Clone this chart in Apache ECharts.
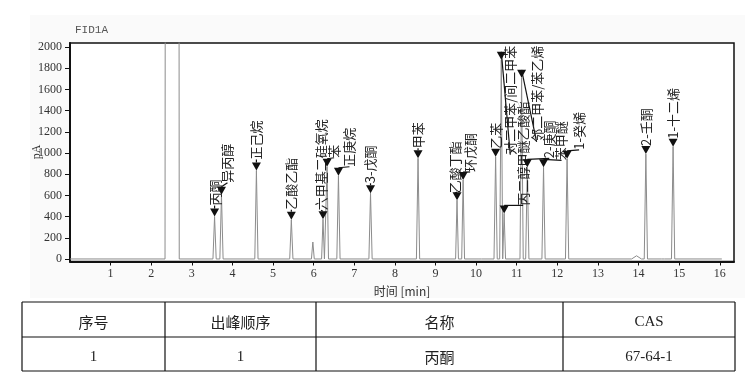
<!DOCTYPE html>
<html><head><meta charset="utf-8">
<script src="https://cdn.jsdelivr.net/npm/echarts@6/dist/echarts.min.js"></script>
<style>html,body{margin:0;padding:0;background:#fff}#c{width:749px;height:379px}</style>
</head><body><div id="c"></div>
<script>
// ---------------- data ----------------
const peakTimes   = [3.56, 3.73, 4.59, 5.45, 5.98, 6.23, 6.33, 6.61, 7.40, 8.57, 9.53, 9.68, 10.10, 10.48, 10.62, 10.69, 11.12, 11.26, 11.66, 12.24, 13.95, 14.18, 14.60, 14.85];
const peakHeights = [400, 605, 835, 370, 160, 375, 870, 785, 620, 950, 555, 745, 10, 965, 1880, 430, 1710, 865, 865, 945, 30, 990, 15, 1060];
const peakHalfWidths = [0.04, 0.04, 0.04, 0.04, 0.035, 0.035, 0.035, 0.04, 0.04, 0.04, 0.035, 0.035, 0.03, 0.04, 0.04, 0.035, 0.04, 0.04, 0.04, 0.04, 0.12, 0.04, 0.04, 0.04];
const peakNames = ['丙酮','异丙醇','正己烷','乙酸乙酯','','六甲基二硅氧烷','苯','正庚烷','3-戊酮','甲苯','乙酸丁酯','环戊酮','','乙苯','对二甲苯/间二甲苯','丙二醇甲醚乙酸酯','邻二甲苯/苯乙烯','2-庚酮','苯甲醚','1-癸烯','','2-壬酮','','1-十二烯'];
const solventStart = 2.35, solventEnd = 2.68, solventLevel = 5000;
const runEnd = 16.05;
const xTickValues = [1,2,3,4,5,6,7,8,9,10,11,12,13,14,15,16];
const yTickValues = [0,200,400,600,800,1000,1200,1400,1600,1800,2000];
const tableHeader = ['序号','出峰顺序','名称','CAS'];
const tableRow = ['1','1','丙酮','67-64-1'];

// ---------------- layout (pixel offsets of labels from the arrow tip) ----------------
const labelLayout = {
  '丙酮':[0,-11], '异丙醇':[6,-12], '正己烷':[0,-11], '乙酸乙酯':[0,-10],
  '六甲基二硅氧烷':[-2,-9], '苯':[7,-9], '正庚烷':[11,-9], '3-戊酮':[0,-10],
  '甲苯':[0,-10], '乙酸丁酯':[-2,-7], '环戊酮':[7,-8], '乙苯':[0,-8],
  '对二甲苯/间二甲苯':[9,95], '丙二醇甲醚乙酸酯':[19,-8], '邻二甲苯/苯乙烯':[15,64],
  '2-庚酮':[22,-9], '苯甲醚':[18,-7], '1-癸烯':[12,-9], '2-壬酮':[0,-8], '1-十二烯':[0,-8]
};

// ---------------- build trace ----------------
const trace = [[0,0],[solventStart-0.01,0],[solventStart,solventLevel],[solventEnd,solventLevel],[solventEnd+0.01,0]];
peakTimes.forEach((t,i)=>{
  const w = peakHalfWidths[i];
  trace.push([t-w,0],[t,peakHeights[i]],[t+w,0]);
});
trace.push([runEnd,0]);
trace.sort((a,b)=>a[0]-b[0]);

const labelData = [];
peakTimes.forEach((t,i)=>{ if(peakNames[i]) labelData.push([t, peakHeights[i], i]); });

const CJK = '"Noto Sans CJK SC", sans-serif';
const SERIF = '"Liberation Serif", "DejaVu Serif", serif';

// table graphics
const colX = [22,165,316,563,735];
const rowY = [302,337,371];
const tableEls = [];
rowY.forEach(y=>tableEls.push({type:'line', shape:{x1:colX[0],y1:y,x2:colX[4],y2:y}, style:{stroke:'#111',lineWidth:1.2}}));
colX.forEach(x=>tableEls.push({type:'line', shape:{x1:x,y1:rowY[0],x2:x,y2:rowY[2]}, style:{stroke:'#111',lineWidth:1.2}}));
[tableHeader, tableRow].forEach((row,r)=>{
  row.forEach((txt,c)=>{
    tableEls.push({type:'text', x:(colX[c]+colX[c+1])/2, y:(rowY[r]+rowY[r+1])/2 + 3,
      style:{text:txt, fill:'#222', fontSize:15, align:'center', verticalAlign:'middle',
        fontFamily: /[\u4e00-\u9fff]/.test(txt) ? CJK : SERIF}});
  });
});

const chart = echarts.init(document.getElementById('c'), null, {renderer:'canvas'});
chart.setOption({
  animation:false,
  backgroundColor:'#fff',
  graphic:[
    {type:'rect', z:-10, shape:{x:30,y:15,width:715,height:283}, style:{fill:'#fafafa'}, silent:true},
    {type:'text', x:75, y:30, style:{text:'FID1A', fill:'#555', fontSize:11, fontFamily:'"Liberation Mono", monospace', verticalAlign:'middle'}},
    {type:'text', x:37, y:152, rotation:Math.PI/2, z:10, style:{text:'pA', fill:'#333', fontSize:12, fontFamily:SERIF, align:'center', verticalAlign:'middle'}},
    ...tableEls
  ],
  grid:{left:70, right:15, top:43, bottom:117.5, show:true, backgroundColor:'#fff', borderColor:'#111', borderWidth:1.5},
  xAxis:{
    type:'value', min:0, max:16.35,
    name:'时间 [min]', nameLocation:'middle', nameGap:24,
    nameTextStyle:{fontSize:12, color:'#333', fontFamily:CJK},
    axisLine:{show:true, onZero:false, lineStyle:{color:'#111', width:2}},
    axisTick:{show:true, customValues:xTickValues, length:4, lineStyle:{color:'#111'}},
    axisLabel:{customValues:xTickValues, fontSize:12, color:'#333', margin:6, fontFamily:SERIF, formatter:v=>String(v)},
    splitLine:{show:false}
  },
  yAxis:{
    type:'value', min:-24, max:2038,
    axisLine:{show:true, onZero:false, lineStyle:{color:'#111', width:2}},
    axisTick:{show:true, customValues:yTickValues, length:5, lineStyle:{color:'#111'}},
    axisLabel:{customValues:yTickValues, fontSize:12, color:'#333', margin:8, fontFamily:SERIF, formatter:v=>String(v)},
    splitLine:{show:false}
  },
  series:[
    {type:'line', data:trace, symbol:'none', clip:true, lineStyle:{color:'#8c8c8c', width:1}, z:2},
    {type:'custom', data:labelData, clip:false, z:5,
      renderItem:function(params, api){
        const t = api.value(0), h = api.value(1), idx = api.value(2);
        const name = peakNames[idx];
        const p = api.coord([t,h]);
        const off = labelLayout[name] || [0,-11];
        const tx = p[0], ty = p[1], baseY = ty-8;
        const lx = tx+off[0], ly = ty+off[1];
        return {type:'group', children:[
          {type:'line', shape:{x1:tx,y1:baseY,x2:lx,y2:ly}, style:{stroke:'#111', lineWidth:1.2}},
          {type:'polygon', shape:{points:[[tx-4.5,baseY],[tx+4.5,baseY],[tx,ty]]}, style:{fill:'#111'}},
          {type:'text', x:lx, y:ly, rotation:Math.PI/2,
            style:{text:name, fontSize:13, fill:'#222', align:'left', verticalAlign:'middle', fontFamily:CJK}}
        ]};
      }
    }
  ]
});
</script></body></html>
